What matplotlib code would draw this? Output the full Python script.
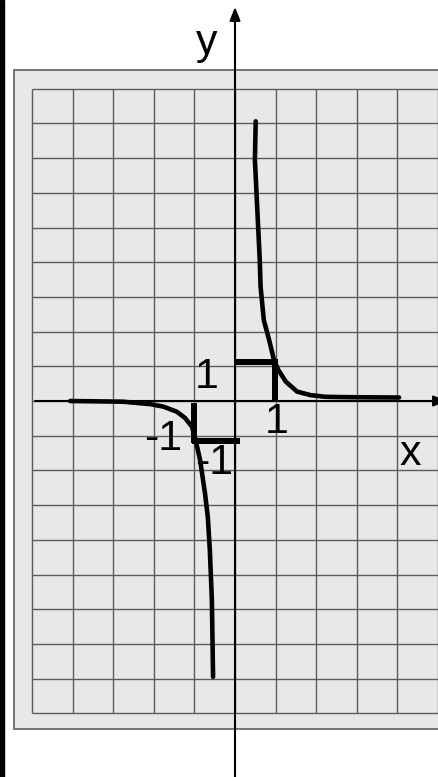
import matplotlib
matplotlib.use("Agg")
import matplotlib.pyplot as plt
from matplotlib.patches import Rectangle

plt.rcParams["font.family"] = ["Liberation Sans", "DejaVu Sans"]

# hand drawn curve (grid units)
right_x = [0.51, 0.49, 0.61, 0.63, 0.71, 0.84, 0.96, 1.07, 1.25, 1.53, 1.86, 2.23, 2.81, 4.04]
right_y = [8.06, 6.95, 4.06, 3.29, 2.33, 1.76, 1.18, 0.89, 0.56, 0.27, 0.17, 0.12, 0.11, 0.10]

left_x = [-4.06, -2.76, -2.09, -1.77, -1.43, -1.23, -1.06, -0.99, -0.86, -0.74, -0.67, -0.62, -0.57, -0.54]
left_y = [0.00, -0.02, -0.09, -0.16, -0.31, -0.49, -0.74, -1.03, -1.70, -2.65, -3.34, -4.29, -5.73, -7.95]

# the little bracket marks at (1,1) and (-1,-1)
mark_pos_h = ([0.02, 1.06], [1.13, 1.13])
mark_pos_v = ([0.985, 0.985], [0.03, 1.21])
mark_neg_v = ([-1.0, -1.0], [-0.06, -1.21])
mark_neg_h = ([-1.06, 0.12], [-1.15, -1.15])

labels = [("y", -0.69, 10.0), ("x", 4.31, -1.84),
          ("1", -0.70, 0.37), ("1", 1.03, -0.92),
          ("-1", -1.77, -1.41), ("-1", -0.52, -2.10)]

grid_x = list(range(-5, 6))
grid_y = list(range(-9, 10))

# pixel layout of the picture
W, H = 439, 777
X0, XS = 235.0, 40.6
Y0, YS = 401.0, 34.7

fig = plt.figure(figsize=(W / 100, H / 100), dpi=100)
ax = fig.add_axes([0, 0, 1, 1])
ax.set_xlim((0 - X0) / XS, (W - X0) / XS)
ax.set_ylim((Y0 - H) / YS, Y0 / YS)
ax.axis("off")

# black strip on the left edge
fig.patches.append(Rectangle((0, 0), 4.5 / W, 1, transform=fig.transFigure,
                             color="black", zorder=0))

# grey panel
px0 = (14 - X0) / XS
py0 = (Y0 - 729) / YS
py1 = (Y0 - 70) / YS
ax.add_patch(Rectangle((px0, py0), 7.0 - px0, py1 - py0, facecolor="#e8e8e8",
                       edgecolor="#6a6a6a", lw=1.3, zorder=1))

ax.vlines(grid_x, -9, 9, color="#5c5c5c", lw=1.0, zorder=2)
ax.hlines(grid_y, -5, 5, color="#5c5c5c", lw=1.0, zorder=2)

# axes with arrows
ax.annotate("", xy=(0, (Y0 - 7) / YS), xytext=(0, (Y0 - H - 5) / YS),
            arrowprops=dict(arrowstyle="-|>,head_length=0.8,head_width=0.32",
                            lw=1.5, color="black", shrinkA=0, shrinkB=0),
            annotation_clip=False, zorder=4)
ax.annotate("", xy=((W + 8 - X0) / XS, 0), xytext=((35 - X0) / XS, 0),
            arrowprops=dict(arrowstyle="-|>,head_length=0.8,head_width=0.32",
                            lw=1.5, color="black", shrinkA=0, shrinkB=0),
            annotation_clip=False, zorder=4)

ax.plot(right_x, right_y, color="black", lw=3.3, solid_capstyle="round",
        solid_joinstyle="round", zorder=5)
ax.plot(left_x, left_y, color="black", lw=3.3, solid_capstyle="round",
        solid_joinstyle="round", zorder=5)

for mx, my in [mark_pos_h, mark_pos_v, mark_neg_v, mark_neg_h]:
    ax.plot(mx, my, color="black", lw=4.3, solid_capstyle="butt", zorder=6)

for txt, tx, ty in labels:
    ax.text(tx, ty, txt, ha="center", va="baseline", fontsize=31,
            color="black", zorder=7)

fig.savefig("out.png", dpi=100)
